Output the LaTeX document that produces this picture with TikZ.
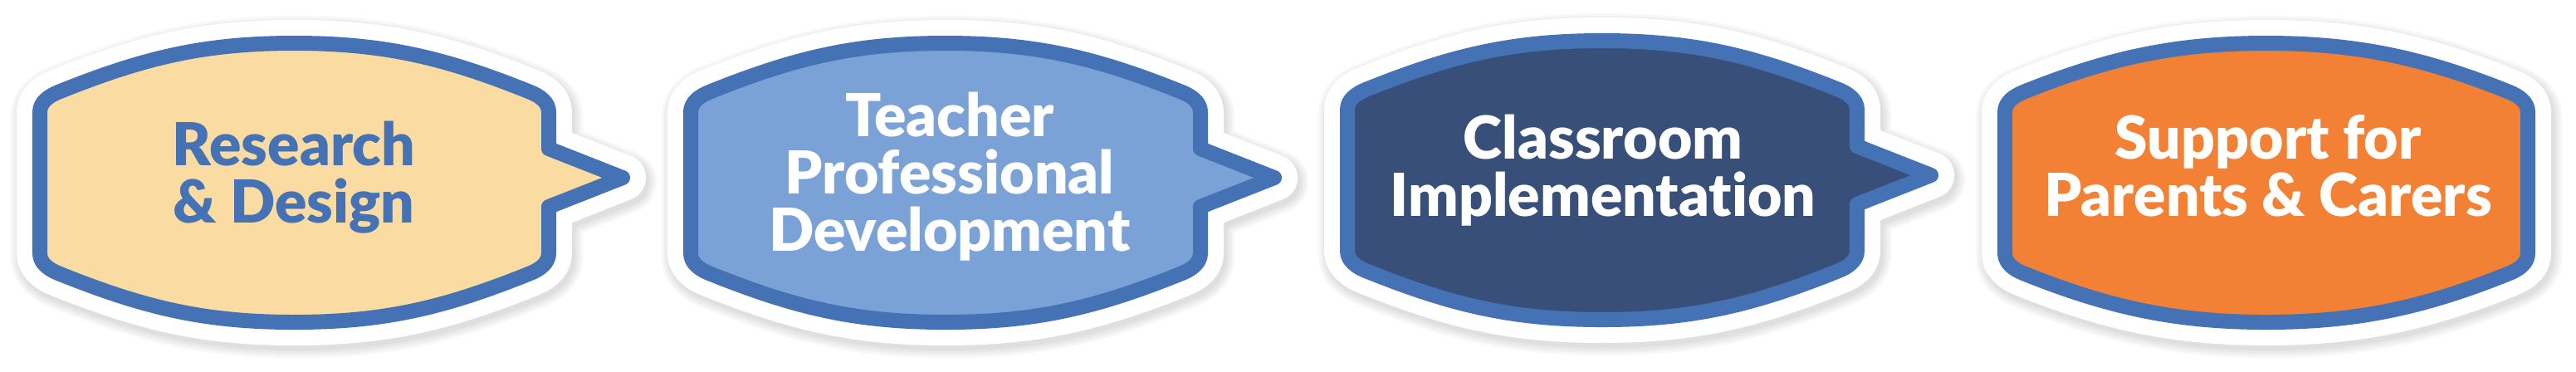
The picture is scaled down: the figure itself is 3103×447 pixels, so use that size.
\documentclass[tikz,border=0pt]{standalone}
\usepackage{fontspec}
\setmainfont{Lato}[UprightFont={* Black},BoldFont={* Black},Ligatures={NoCommon}]

\definecolor{rimblue}{RGB}{68,114,180}
\definecolor{sand}{RGB}{250,219,162}
\definecolor{skyblue}{RGB}{123,162,214}
\definecolor{navy}{RGB}{55,79,121}
\definecolor{tangerine}{RGB}{242,129,53}

% outline of one bubble: left x, right x, tip length (0 = no tip)
\newcommand\bubbleoutline[3]{%
  ({#1},305) -- ({#1},135)
  .. controls ({#1},123) and ({#1+11},115.5) .. ({#1+22},111)
  .. controls ({#1+124},70) and ({(#1+#2)/2-110},52) .. ({(#1+#2)/2},52)
  .. controls ({(#1+#2)/2+110},52) and ({#2-124},70) .. ({#2-22},111)
  .. controls ({#2-11},115.5) and ({#2},123) .. ({#2},135)
  -- ({#2},179) -- ({#2+#3},214) -- ({#2},249) -- ({#2},305)
  .. controls ({#2},317) and ({#2-11},324.5) .. ({#2-22},329)
  .. controls ({#2-124},370) and ({(#1+#2)/2+110},388) .. ({(#1+#2)/2},388)
  .. controls ({(#1+#2)/2-110},388) and ({#1+124},370) .. ({#1+22},329)
  .. controls ({#1+11},324.5) and ({#1},317) .. ({#1},305) -- cycle}

% shadow, white halo, coloured body with blue rim
\newcommand\bubble[4]{%
  \foreach \w in {58,64,70,76}
    \draw[haze, line width=\w*0.01cm, xshift=0.03cm, yshift=-0.05cm] \bubbleoutline{#1}{#2}{#3};
  \draw[halo] \bubbleoutline{#1}{#2}{#3};
  \draw[rim, fill=#4] \bubbleoutline{#1}{#2}{#3};
}

\tikzset{
  haze/.style={draw=black, opacity=0.03, line join=round},
  halo/.style={draw=white, fill=white, line width=0.56cm, line join=round},
  rim/.style={draw=rimblue, line width=0.18cm, line join=round},
  bubbletext/.style={font=\fontsize{20.3}{19.5}\selectfont, align=center,
    inner sep=0pt, anchor=base}
}

\begin{document}
\begin{tikzpicture}[x=0.01cm, y=-0.01cm]
\fill[white] (0,0) rectangle (3103,447);
\useasboundingbox (0,0) rectangle (3103,447);

\bubble{48}{661}{89}{sand}
\bubble{832}{1446}{89}{skyblue}
\begin{scope}[yshift=0.03cm]
\bubble{1623}{2237}{89}{navy}
\end{scope}
\bubble{2415}{3045}{0}{tangerine}

% anchor=base sits on the last line
\node[bubbletext, text=rimblue] (rd) at (354,268) {Research\\\& Design};
\node[bubbletext, text=white] (tpd) at (1144,302) {Teacher\\Professional\\Development};
\node[bubbletext, text=white] (ci) at (1931,260) {Classroom\\Implementation};
\node[bubbletext, text=white] (spc) at (2732,260) {Support for\\Parents \& Carers};

\end{tikzpicture}
\end{document}
